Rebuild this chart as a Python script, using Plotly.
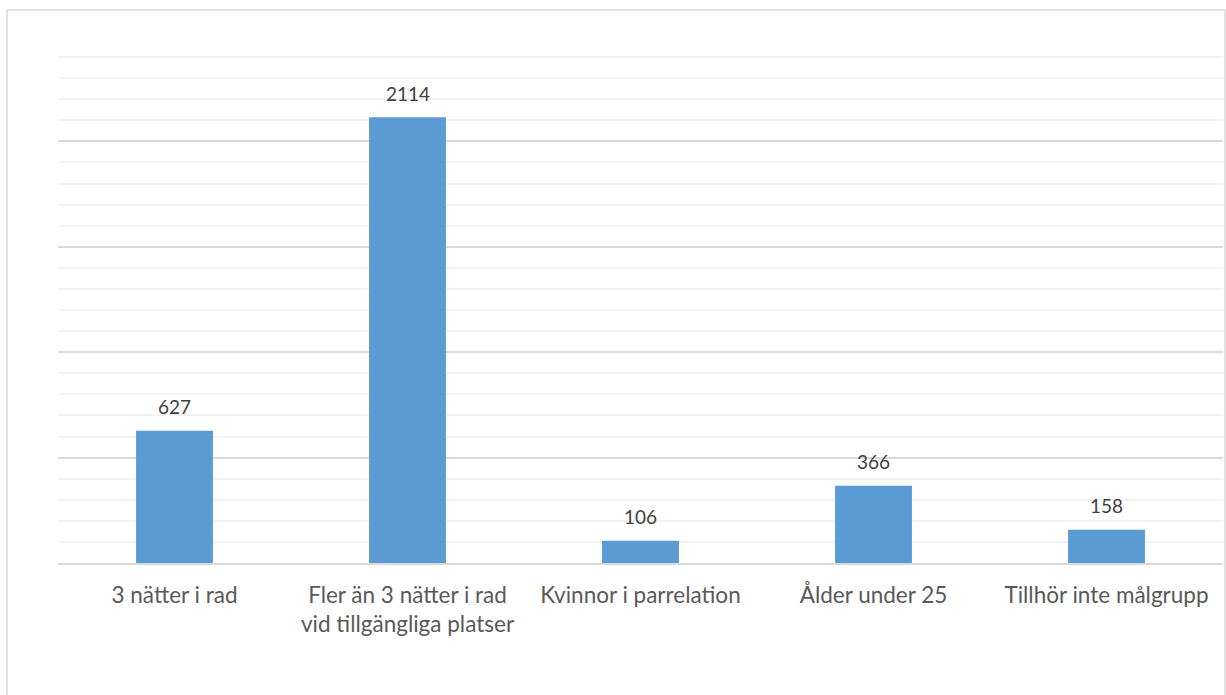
import plotly.graph_objects as go

categories = [
    "3 nätter i rad",
    "Fler än 3 nätter i rad<br>vid tillgängliga platser",
    "Kvinnor i parrelation",
    "Ålder under 25",
    "Tillhör inte målgrupp",
]
values = [627, 2114, 106, 366, 158]

W, H = 1226, 695
ML, MR, MT, MB = 58, 3, 36, 132
pw, ph = W - ML - MR, H - MT - MB

fig = go.Figure(
    go.Bar(
        x=categories,
        y=values,
        marker=dict(color="#5b9bd5", line=dict(width=0)),
        cliponaxis=False,
    )
)

# Value labels above each bar
for c, v in zip(categories, values):
    fig.add_annotation(
        x=c, y=v, text=str(v), showarrow=False,
        yanchor="middle", yshift=24,
        font=dict(family="Lato, Open Sans, sans-serif", size=19, color="#404040"),
    )

# Outer chart frame
fig.add_shape(
    type="rect", xref="paper", yref="paper",
    x0=(7 - ML) / pw, x1=(1225 - ML) / pw,
    y0=(H - MB - 720) / ph, y1=(H - MB - 10) / ph,
    line=dict(color="#d9d9d9", width=1.5), fillcolor="rgba(0,0,0,0)",
    layer="below",
)

fig.update_layout(
    width=W, height=H,
    margin=dict(l=ML, r=MR, t=MT, b=MB),
    paper_bgcolor="white", plot_bgcolor="white",
    bargap=0.67,
    showlegend=False,
    font=dict(family="Lato, Open Sans, sans-serif", color="#595959"),
    xaxis=dict(
        showgrid=False, showline=True, linecolor="#d9d9d9", linewidth=1.5,
        ticks="", tickfont=dict(size=22.5, color="#595959"), ticklabelstandoff=11,
    ),
    yaxis=dict(
        range=[0, 2500], dtick=500, showticklabels=False,
        showgrid=True, gridcolor="#d9d9d9", gridwidth=1.5,
        minor=dict(dtick=100, showgrid=True, gridcolor="#f2f2f2", gridwidth=1.5),
        zeroline=False, showline=False,
    ),
)

fig.write_html("out.html")
